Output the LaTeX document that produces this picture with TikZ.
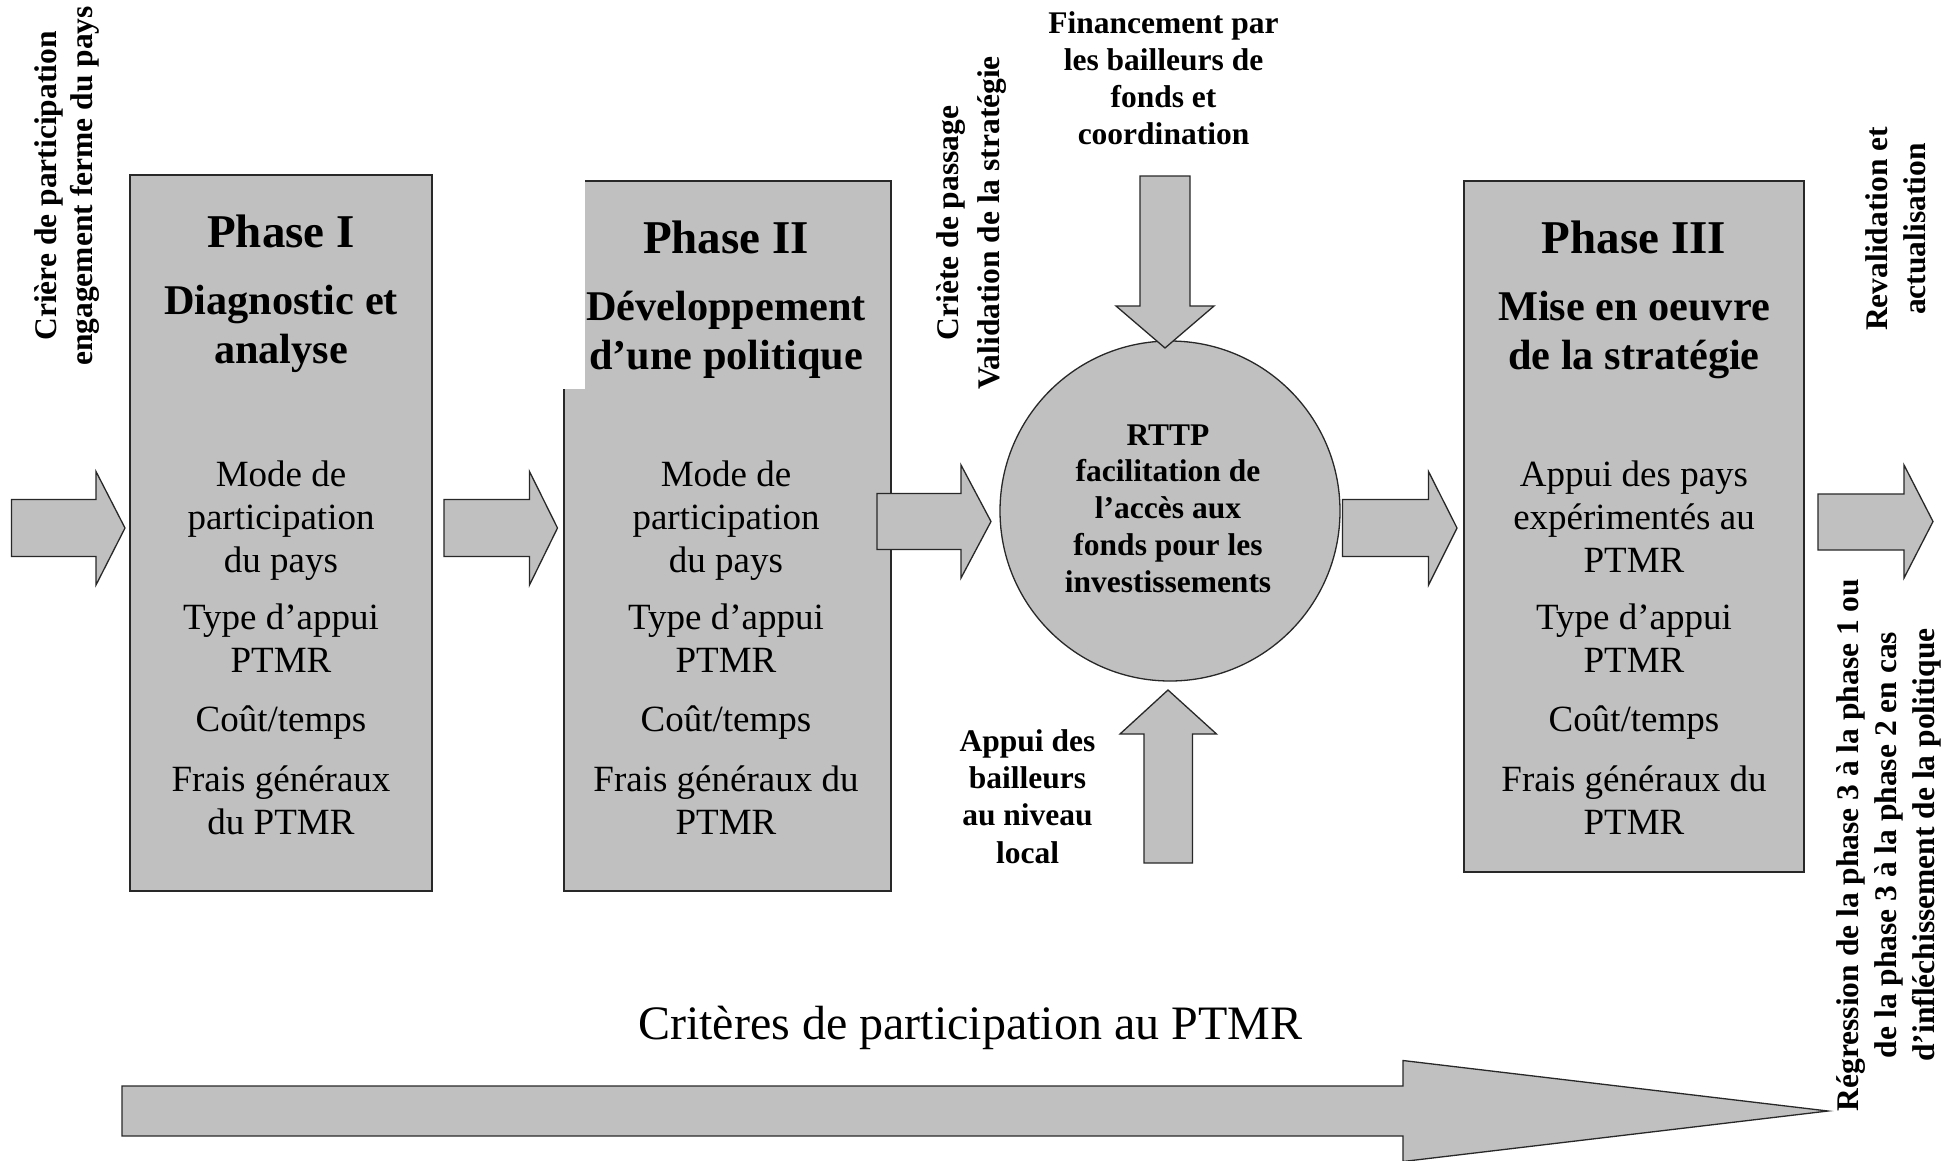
\documentclass[tikz,border=0pt]{standalone}
\usepackage{fontspec}
\setmainfont{Liberation Serif}
\definecolor{boxgray}{RGB}{192,192,192}
\definecolor{edge}{RGB}{40,40,40}
\begin{document}
\begin{tikzpicture}[x=1pt,y=-1pt,
  box/.style={draw=edge, line width=1.3pt, fill=boxgray, inner sep=0pt, outer sep=0pt},
  arr/.style={draw=edge, line width=1.3pt, fill=boxgray, line join=miter},
  body/.style={anchor=base, inner sep=0pt, font=\fontsize{37}{43}\selectfont},
  ttl/.style={anchor=base, inner sep=0pt, font=\bfseries\fontsize{47}{54}\selectfont},
  sub/.style={anchor=base, inner sep=0pt, font=\bfseries\fontsize{42.3}{49}\selectfont},
  sml/.style={anchor=base, inner sep=0pt, font=\bfseries\fontsize{31.5}{37}\selectfont},
  rot/.style={anchor=base, inner sep=0pt, rotate=90, font=\bfseries\fontsize{31.5}{36}\selectfont},
  big/.style={anchor=base, inner sep=0pt, font=\fontsize{48}{56}\selectfont},
]
\useasboundingbox (0,0) rectangle (1946,1160);
\clip (0,0) rectangle (1946,1160);
\fill[white] (0,0) rectangle (1946,1160);

% phase boxes
\node[box, minimum width=302pt, minimum height=716pt] (ph1) at (281,533) {};
\node[box, minimum width=327pt, minimum height=710pt] (ph2) at (727.5,536) {};
\fill[white] (550,170) rectangle (585,389);
\node[box, minimum width=340pt, minimum height=691pt] (ph3) at (1634,526.5) {};
\node[box, circle, minimum size=340pt] (rttp) at (1170,511) {};

% horizontal block arrows
\draw[arr] (11.5,499.5) -- (96,499.5) -- (96,471.5) -- (125,528) -- (96,585) -- (96,556.5) -- (11.5,556.5) -- cycle;
\draw[arr] (444,499.5) -- (529.5,499.5) -- (529.5,471.5) -- (557.5,528) -- (529.5,585) -- (529.5,556.5) -- (444,556.5) -- cycle;
\draw[arr] (877,493.5) -- (961,493.5) -- (961,465) -- (991,521.5) -- (961,578) -- (961,549.5) -- (877,549.5) -- cycle;
\draw[arr] (1342.5,499.5) -- (1428.5,499.5) -- (1428.5,471.5) -- (1457,528) -- (1428.5,585) -- (1428.5,556.5) -- (1342.5,556.5) -- cycle;
\draw[arr] (1818,494) -- (1904,494) -- (1904,465) -- (1933,521.5) -- (1904,578) -- (1904,550) -- (1818,550) -- cycle;
% vertical block arrows
\draw[arr] (1140,176) -- (1190,176) -- (1190,306) -- (1214,306) -- (1165,348) -- (1116,306) -- (1140,306) -- cycle;
\draw[arr] (1144,863) -- (1192.5,863) -- (1192.5,734) -- (1216.5,734) -- (1168,690) -- (1120,734) -- (1144,734) -- cycle;
% long bottom arrow
\draw[arr] (122,1086) -- (1403,1086) -- (1403,1060.5) -- (1828,1111) -- (1403,1161.5) -- (1403,1136) -- (122,1136) -- cycle;

% Phase I texts
\node[ttl] (t1) at (281,247) {Phase I};
\node[sub] (s1a) at (281,314) {Diagnostic et};
\node[sub] (s1b) at (281,363) {analyse};
\node[body] (b1a) at (281,486) {Mode de};
\node[body] (b1b) at (281,529.4) {participation};
\node[body] (b1c) at (281,572.8) {du pays};
\node[body] (b1d) at (281,629) {Type d’appui};
\node[body] (b1e) at (281,672.4) {PTMR};
\node[body] (b1f) at (281,731) {Coût/temps};
\node[body] (b1g) at (281,791) {Frais généraux};
\node[body] (b1h) at (281,834.4) {du PTMR};

% Phase II texts
\node[ttl] (t2) at (726,253) {Phase II};
\node[sub] (s2a) at (726,320) {Développement};
\node[sub] (s2b) at (726,369) {d’une politique};
\node[body] (b2a) at (726,486) {Mode de};
\node[body] (b2b) at (726,529.4) {participation};
\node[body] (b2c) at (726,572.8) {du pays};
\node[body] (b2d) at (726,629) {Type d’appui};
\node[body] (b2e) at (726,672.4) {PTMR};
\node[body] (b2f) at (726,731) {Coût/temps};
\node[body] (b2g) at (726,791) {Frais généraux du};
\node[body] (b2h) at (726,834.4) {PTMR};

% Phase III texts
\node[ttl] (t3) at (1634,253) {Phase III};
\node[sub] (s3a) at (1634,320) {Mise en oeuvre};
\node[sub] (s3b) at (1634,369) {de la stratégie};
\node[body] (b3a) at (1634,486) {Appui des pays};
\node[body] (b3b) at (1634,529.4) {expérimentés au};
\node[body] (b3c) at (1634,572.8) {PTMR};
\node[body] (b3d) at (1634,629) {Type d’appui};
\node[body] (b3e) at (1634,672.4) {PTMR};
\node[body] (b3f) at (1634,731) {Coût/temps};
\node[body] (b3g) at (1634,791) {Frais généraux du};
\node[body] (b3h) at (1634,834.4) {PTMR};

% circle texts
\node[sml] (c1) at (1168,445) {RTTP};
\node[sml] (c2) at (1168,481) {facilitation de};
\node[sml] (c3) at (1168,518) {l’accès aux};
\node[sml] (c4) at (1168,555) {fonds pour les};
\node[sml] (c5) at (1168,592) {investissements};

% top financing label
\node[sml] (f1) at (1163.5,33.5) {Financement par};
\node[sml] (f2) at (1163.5,70.5) {les bailleurs de};
\node[sml] (f3) at (1163.5,107.5) {fonds et};
\node[sml] (f4) at (1163.5,144.5) {coordination};

% local donors label
\node[sml] (l1) at (1027.5,751) {Appui des};
\node[sml] (l2) at (1027.5,788) {bailleurs};
\node[sml] (l3) at (1027.5,825.5) {au niveau};
\node[sml] (l4) at (1027.5,863) {local};

% bottom label
\node[big] (crit) at (970,1039) {Critères de participation au PTMR};

% rotated labels
\node[rot] (r1a) at (56,186) {Crière de participation};
\node[rot] (r1b) at (92,186) {engagement ferme du pays};
\node[rot] (r2a) at (958,223) {Criète de passage};
\node[rot] (r2b) at (999,223) {Validation de la stratégie};
\node[rot] (r3a) at (1887,229) {Revalidation et};
\node[rot] (r3b) at (1925,229) {actualisation};
\node[rot] (r4a) at (1858,845) {Régression de la phase 3 à la phase 1 ou};
\node[rot] (r4b) at (1896,845) {de la phase 3 à la phase 2 en cas};
\node[rot] (r4c) at (1934,845) {d’infléchissement de la politique};
\end{tikzpicture}
\end{document}
